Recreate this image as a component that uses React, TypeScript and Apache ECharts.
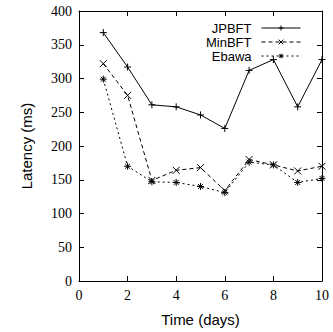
import React, { useEffect, useRef } from "react";
import * as echarts from "echarts";

const days = [1, 2, 3, 4, 5, 6, 7, 8, 9, 10];
const jpbft = [368, 317, 261, 258, 246, 226, 312, 328, 258, 328];
const minbft = [322, 275, 149, 164, 168, 134, 180, 172, 163, 170];
const ebawa = [299, 170, 147, 146, 140, 131, 176, 172, 146, 152];

const PLUS = "path://M5,0L5,10M0,5L10,5";
const CROSS = "path://M0,0L10,10M10,0L0,10";
const STAR = "path://M5,0L5,10M0,5L10,5M1.5,1.5L8.5,8.5M8.5,1.5L1.5,8.5";

const SERIF = "'Liberation Serif', 'Times New Roman', serif";
const SANS = "'Liberation Sans', Arial, Helvetica, sans-serif";

export default function App() {
  const ref = useRef<HTMLDivElement>(null);
  useEffect(() => {
    document.body.style.margin = "0";
    const chart = echarts.init(ref.current!, null, { renderer: "svg" });
    const mk = (name: string, vals: number[], sym: string, type: any, size: number) => ({
      name,
      type: "line",
      data: days.map((d, i) => [d, vals[i]]),
      symbol: sym,
      symbolSize: size,
      showAllSymbol: true,
      lineStyle: { color: "#000", width: 1, type },
      itemStyle: { color: "#000", borderColor: "#000", borderWidth: 1 },
      emphasis: { disabled: true },
      xAxisIndex: 0,
      yAxisIndex: 0,
    });
    const tickStyle = { lineStyle: { color: "#000", width: 1 } };
    const serifLabel = {
      fontFamily: SERIF,
      fontSize: 14,
      color: "#000",
      margin: 7,
    };
    chart.setOption({
      animation: false,
      grid: { left: 79, right: 11, top: 11, bottom: 41 },
      legend: {
        orient: "vertical",
        right: 27,
        top: 16,
        align: "right",
        itemWidth: 39,
        itemHeight: 6,
        itemGap: 0,
        lineStyle: { width: 1, color: "#000" },
        itemStyle: { borderWidth: 1, borderColor: "#000", color: "#000" },
        textStyle: {
          fontFamily: SANS,
          fontSize: 13,
          color: "#000",
          lineHeight: 14,
          padding: [0, 5, 0, 0],
        },
        data: ["JPBFT", "MinBFT", "Ebawa"],
      },
      xAxis: [
        {
          type: "value",
          min: 0,
          max: 10,
          interval: 2,
          name: "Time (days)",
          nameLocation: "middle",
          nameGap: 31,
          nameMoveOverlap: false,
          nameTextStyle: { fontFamily: SANS, fontSize: 15, color: "#000" },
          axisLine: { show: true, onZero: false, lineStyle: { color: "#000" } },
          axisTick: { inside: true, length: 5, ...tickStyle },
          axisLabel: serifLabel,
          splitLine: { show: false },
        },
        {
          type: "value",
          position: "top",
          min: 0,
          max: 10,
          interval: 2,
          axisLine: { show: true, onZero: false, lineStyle: { color: "#000" } },
          axisTick: { inside: true, length: 5, ...tickStyle },
          axisLabel: { show: false },
          splitLine: { show: false },
        },
      ],
      yAxis: [
        {
          type: "value",
          min: 0,
          max: 400,
          interval: 50,
          name: "Latency (ms)",
          nameLocation: "middle",
          nameGap: 45,
          nameMoveOverlap: false,
          nameTextStyle: { fontFamily: SANS, fontSize: 15, color: "#000" },
          axisLine: { show: true, onZero: false, lineStyle: { color: "#000" } },
          axisTick: { inside: true, length: 5, ...tickStyle },
          axisLabel: serifLabel,
          splitLine: { show: false },
        },
        {
          type: "value",
          position: "right",
          min: 0,
          max: 400,
          interval: 50,
          axisLine: { show: true, onZero: false, lineStyle: { color: "#000" } },
          axisTick: { inside: true, length: 5, ...tickStyle },
          axisLabel: { show: false },
          splitLine: { show: false },
        },
      ],
      series: [
        mk("JPBFT", jpbft, PLUS, "solid", 7),
        mk("MinBFT", minbft, CROSS, [4, 3], 7),
        mk("Ebawa", ebawa, STAR, [2, 3], 7),
      ],
    });
    return () => chart.dispose();
  }, []);
  return <div ref={ref} style={{ width: 333, height: 332 }} />;
}
